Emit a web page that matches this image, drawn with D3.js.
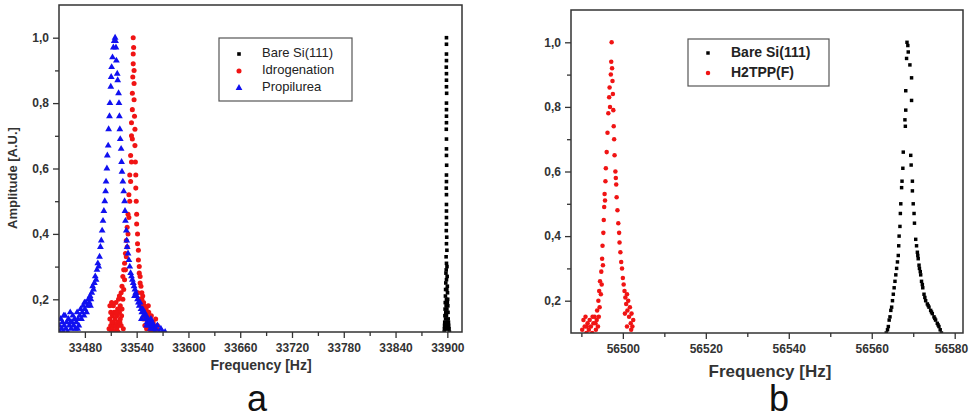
<!DOCTYPE html>
<html>
<head>
<meta charset="utf-8">
<script src="https://cdn.jsdelivr.net/npm/d3@7"></script>
<style>
  body { margin: 0; background: #fff; }
  text { font-family: "Liberation Sans", Arial, sans-serif; }
</style>
</head>
<body>
<script>
// ---- data: [frequency Hz, amplitude A.U.] ----
const bareSiA = [
  [33899,1.0],[33899,0.98],[33899,0.95],[33899,0.93],[33898.8,0.91],[33899,0.89],[33899,0.87],[33899,0.85],
  [33899.2,0.83],[33899,0.80],[33899,0.78],[33899,0.76],[33899,0.74],[33898.8,0.72],[33899,0.69],[33899,0.66],
  [33899,0.64],[33899.2,0.61],[33899,0.58],[33899,0.56],[33898.8,0.54],[33899,0.52],[33899,0.49],[33899,0.47],
  [33899,0.45],[33899,0.43],[33898.8,0.41],[33899.3,0.39],[33899,0.37],[33899.5,0.35],[33898.6,0.33],[33899,0.31],
  [33899.6,0.30],[33898.4,0.28],[33899.8,0.27],[33898.2,0.25],[33900,0.24],[33898,0.23],[33900.2,0.22],[33897.8,0.21],
  [33900.4,0.20],[33897.6,0.19],[33900.6,0.18],[33897.4,0.17],[33900.8,0.16],[33897.2,0.15],[33901,0.14],[33897,0.13],
  [33901.3,0.13],[33896.8,0.12],[33901.6,0.12],[33896.6,0.11],[33902,0.11],[33896.4,0.10],[33902.4,0.10],
  [33899,0.20],[33899,0.15],[33898.5,0.12],[33899.5,0.17],[33898.6,0.18],[33899.8,0.13],[33898,0.14],[33900.5,0.11],
  [33898.2,0.16],[33900,0.19],[33899,0.26],[33898.7,0.29],[33899.4,0.23],[33899,0.11],[33900.8,0.12],[33897.6,0.11]
];
const idrogenation = [
  [33508,0.11],[33509,0.14],[33509,0.18],[33510,0.12],[33510,0.16],[33511,0.19],[33512,0.11],[33512,0.15],
  [33513,0.13],[33513,0.18],[33514,0.12],[33514,0.16],[33515,0.10],[33515,0.14],[33516,0.19],[33516,0.12],
  [33517,0.15],[33517,0.11],[33518,0.17],[33518,0.13],[33519,0.20],[33519,0.12],[33520,0.16],[33520,0.21],
  [33521,0.14],[33521,0.18],[33522,0.22],[33522,0.12],[33523,0.17],[33523,0.24],[33524,0.20],[33524,0.27],
  [33525,0.23],[33525,0.29],[33526,0.26],[33526,0.31],[33527,0.29],[33527,0.34],[33528,0.33],[33528,0.38],
  [33529,0.36],[33529,0.42],[33530,0.40],[33530,0.46],[33531,0.45],[33531,0.52],[33532,0.50],[33532,0.58],
  [33533,0.56],[33533,0.64],[33534,0.62],[33534,0.70],[33534,0.74],[33535,0.69],[33535,0.78],[33535,0.83],
  [33535.5,0.88],[33536,0.92],[33536,0.95],[33536,1.0],[33536.5,0.97],[33537,0.90],[33537,0.86],[33537,0.81],
  [33537.5,0.76],[33538,0.72],[33538,0.67],[33538.5,0.62],[33539,0.58],[33539,0.54],[33539.5,0.50],[33540,0.46],
  [33540,0.43],[33541,0.40],[33541,0.37],[33542,0.35],[33542,0.32],[33543,0.30],[33543,0.28],[33544,0.27],
  [33544,0.25],[33545,0.24],[33546,0.22],[33546,0.20],[33547,0.21],[33548,0.19],[33548,0.17],[33549,0.18],
  [33550,0.16],[33550,0.14],[33551,0.17],[33552,0.15],[33552,0.12],[33553,0.13],[33554,0.16],[33554,0.11],
  [33555,0.14],[33556,0.12],[33557,0.15],[33558,0.11],[33559,0.13],[33560,0.12],[33561,0.10],[33562,0.14],
  [33563,0.11],[33564,0.12],[33510.5,0.10],[33511.5,0.13],[33513.5,0.10],[33516.5,0.16],[33518.5,0.10],
  [33520.5,0.13],[33522.5,0.15],[33524.5,0.11],[33541.5,0.22],[33543.5,0.20],[33545.5,0.18],[33547.5,0.14],
  [33549.5,0.12],[33551.5,0.11],[33553.5,0.18],[33556.5,0.10]
];
const propilurea = [
  [33450,0.12],[33451,0.10],[33452,0.14],[33453,0.11],[33454,0.13],[33455,0.10],[33456,0.12],[33457,0.15],
  [33458,0.11],[33459,0.13],[33460,0.10],[33461,0.14],[33462,0.12],[33463,0.16],[33464,0.11],[33465,0.13],
  [33466,0.15],[33467,0.12],[33468,0.14],[33469,0.11],[33470,0.13],[33471,0.16],[33472,0.14],[33473,0.12],
  [33474,0.15],[33475,0.17],[33476,0.14],[33477,0.16],[33478,0.18],[33479,0.15],[33480,0.17],[33481,0.19],
  [33482,0.16],[33483,0.18],[33484,0.20],[33485,0.19],[33486,0.21],[33487,0.20],[33488,0.22],[33489,0.24],
  [33490,0.23],[33491,0.25],[33492,0.27],[33493,0.26],[33494,0.29],[33495,0.31],[33496,0.30],[33497,0.33],
  [33498,0.36],[33499,0.38],[33500,0.41],[33501,0.44],[33502,0.47],[33503,0.50],[33504,0.53],[33504.5,0.56],
  [33505.5,0.60],[33506,0.64],[33507,0.67],[33507.5,0.72],[33508.5,0.76],[33509,0.80],[33510,0.85],[33510.5,0.88],
  [33511,0.91],[33512,0.94],[33513,0.97],[33514,0.99],[33515,1.0],[33515.5,0.99],[33516,0.97],
  [33516.5,0.93],[33517.5,0.89],[33518,0.87],[33519,0.83],[33519.5,0.80],[33520,0.76],[33520.5,0.72],[33521,0.69],
  [33522,0.66],[33522.5,0.62],[33523,0.59],[33524,0.56],[33525,0.53],[33526,0.50],[33526.5,0.47],[33527,0.44],
  [33528,0.41],[33528.5,0.38],[33529,0.36],[33530,0.34],[33531,0.32],[33532,0.30],[33533,0.28],[33534,0.27],
  [33535,0.26],[33536,0.25],[33537,0.24],[33538,0.23],[33539,0.22],[33540,0.21],[33541,0.20],[33542,0.19],
  [33543,0.18],[33544,0.19],[33545,0.17],[33546,0.16],[33547,0.17],[33548,0.15],[33549,0.16],[33550,0.14],
  [33551,0.15],[33552,0.13],[33553,0.14],[33554,0.12],[33555,0.13],[33556,0.11],[33557,0.12],[33558,0.13],
  [33559,0.11],[33560,0.12],[33561,0.10],[33562,0.11],[33564,0.12],[33566,0.10],[33568,0.11],[33570,0.10],
  [33573,0.10],[33455.5,0.15],[33463.5,0.13],[33471.5,0.11],[33479.5,0.19],[33486.5,0.18],[33537.5,0.21],
  [33545.5,0.14],[33551.5,0.12],[33556.5,0.14]
];
const bareSiB = [
  [56568.5,1.0],[56568.7,0.99],[56568.8,0.97],[56568.4,0.95],[56569.2,0.93],[56569.6,0.89],[56568.2,0.85],
  [56569.6,0.82],[56568.2,0.79],[56568.0,0.76],[56568.1,0.74],
  [56567.6,0.66],[56569.4,0.65],[56569.5,0.62],[56567.5,0.61],[56567.3,0.57],[56569.8,0.57],[56567.2,0.55],
  [56569.8,0.54],[56567.0,0.50],[56570.0,0.50],[56566.9,0.47],[56570.2,0.47],[56566.8,0.43],[56570.3,0.44],
  [56566.6,0.40],[56570.6,0.39],[56566.5,0.37],[56570.8,0.37],[56566.4,0.34],[56571.0,0.35],[56566.2,0.32],
  [56571.2,0.33],[56566.0,0.30],[56571.5,0.30],[56565.8,0.28],[56571.8,0.28],[56565.6,0.26],[56572.0,0.26],
  [56565.4,0.24],[56572.3,0.24],[56565.2,0.22],[56572.6,0.22],[56565.0,0.20],[56573.0,0.20],[56564.8,0.18],
  [56573.4,0.19],[56564.6,0.17],[56573.8,0.18],[56564.4,0.15],[56574.2,0.17],[56564.2,0.14],[56574.6,0.16],
  [56564.0,0.12],[56575.0,0.15],[56563.8,0.11],[56575.4,0.14],[56563.5,0.10],[56575.8,0.13],[56576.2,0.12],
  [56576.5,0.11],[56576.8,0.10],[56571.1,0.34],[56571.4,0.31],[56571.7,0.29],[56572.2,0.25],[56572.8,0.21],
  [56573.6,0.185],[56574.4,0.165],[56575.2,0.145],[56576.0,0.125]
];
const h2tpp = [
  [56490.2,0.11],[56490.5,0.14],[56490.8,0.12],[56491.0,0.15],[56491.2,0.10],[56491.5,0.13],[56491.8,0.11],
  [56492.0,0.14],[56492.3,0.12],[56492.6,0.10],[56492.9,0.13],[56493.2,0.15],[56493.5,0.11],[56493.7,0.14],
  [56493.8,0.17],[56494.0,0.12],[56494.1,0.20],[56494.3,0.23],[56494.4,0.18],[56494.5,0.26],[56494.7,0.22],
  [56494.8,0.29],[56494.9,0.25],[56495.0,0.33],[56495.1,0.37],[56495.2,0.31],[56495.3,0.41],[56495.4,0.45],
  [56495.5,0.49],[56495.6,0.53],[56495.8,0.57],[56495.7,0.51],[56495.9,0.61],[56496.1,0.66],[56496.3,0.72],
  [56496.5,0.78],[56496.7,0.83],[56496.8,0.86],[56496.9,0.80],[56497.1,0.90],[56497.2,0.94],[56497.3,1.0],
  [56497.4,0.92],[56497.5,0.88],[56497.6,0.84],[56497.7,0.79],[56497.8,0.74],[56497.9,0.70],[56498.0,0.65],
  [56498.2,0.60],[56498.4,0.56],[56498.5,0.52],[56498.3,0.58],[56498.7,0.48],[56498.9,0.44],[56499.1,0.41],
  [56499.2,0.38],[56499.4,0.35],[56499.6,0.32],[56499.8,0.30],[56500.0,0.27],[56500.2,0.25],[56500.4,0.23],
  [56500.6,0.21],[56500.8,0.19],[56501.0,0.22],[56501.1,0.17],[56501.3,0.20],[56501.5,0.15],[56501.7,0.18],
  [56501.9,0.13],[56502.1,0.16],[56502.3,0.12],[56502.5,0.14],[56500.5,0.16],[56501.0,0.12],[56502.0,0.11],
  [56491.3,0.12],[56492.7,0.15],[56493.4,0.13],[56494.2,0.15]
];

// ---- axes ticks ----
const xTicksA = [33480, 33540, 33600, 33660, 33720, 33780, 33840, 33900];
const xMinorA = [33510, 33570, 33630, 33690, 33750, 33810, 33870];
const xTicksB = [56500, 56520, 56540, 56560, 56580];
const xMinorB = [56490, 56510, 56530, 56550, 56570];
const yTicks = [0.2, 0.4, 0.6, 0.8, 1.0];
const yMinor = [0.3, 0.5, 0.7, 0.9];

const W = 969, H = 419;
const svg = d3.select("body").append("svg").attr("width", W).attr("height", H);

const commaFmt = v => d3.format(".1f")(v).replace(".", ",");

function drawPanel(p) {
  const x = d3.scaleLinear().domain(p.xDomain).range([p.left, p.right]);
  const y = d3.scaleLinear().domain([0.1, 1.1]).range([p.bottom, p.top]);
  const g = svg.append("g");

  g.append("clipPath").attr("id", p.id + "clip")
    .append("rect").attr("x", p.left).attr("y", p.top)
    .attr("width", p.right - p.left).attr("height", p.bottom - p.top);

  const plot = g.append("g").attr("clip-path", `url(#${p.id}clip)`);
  p.series.forEach(s => {
    const sym = d3.symbol().type(s.shape).size(s.size);
    plot.append("g").selectAll("path").data(s.data).join("path")
      .attr("d", sym)
      .attr("transform", d => `translate(${x(d[0])},${y(d[1])})`)
      .attr("fill", s.color);
  });

  // frame
  g.append("rect").attr("x", p.left).attr("y", p.top)
    .attr("width", p.right - p.left).attr("height", p.bottom - p.top)
    .attr("fill", "none").attr("stroke", "#333").attr("stroke-width", 1.5);

  g.append("g").attr("transform", `translate(0,${p.bottom})`)
    .call(d3.axisBottom(x).tickValues(p.xTicks).tickSize(6).tickPadding(5).tickFormat(d3.format("d")));
  g.append("g").attr("transform", `translate(0,${p.bottom})`)
    .call(d3.axisBottom(x).tickValues(p.xMinor).tickSize(4).tickFormat(""));
  g.append("g").attr("transform", `translate(${p.left},0)`)
    .call(d3.axisLeft(y).tickValues(yTicks).tickSize(6).tickPadding(4).tickFormat(commaFmt));
  g.append("g").attr("transform", `translate(${p.left},0)`)
    .call(d3.axisLeft(y).tickValues(yMinor).tickSize(4).tickFormat(""));

  g.selectAll(".domain").remove();
  g.selectAll(".tick line").attr("stroke", "#333").attr("stroke-width", 1.3);
  g.selectAll(".tick text").attr("fill", "#333").style("font-size", "12px").style("font-weight", "bold");

  g.append("text").attr("x", p.xTitle[0]).attr("y", p.xTitle[1])
    .attr("text-anchor", "middle").attr("fill", "#333")
    .style("font-size", p.xTitleSize + "px").style("font-weight", "bold")
    .text("Frequency [Hz]");

  // legend
  const lg = g.append("g");
  lg.append("rect").attr("x", p.legend.x).attr("y", p.legend.y)
    .attr("width", p.legend.w).attr("height", p.legend.h)
    .attr("fill", "#fff").attr("stroke", "#555").attr("stroke-width", 1.2);
  p.series.forEach((s, i) => {
    const ry = p.legend.y + p.legend.first + i * p.legend.step;
    lg.append("path").attr("d", d3.symbol().type(s.shape).size(s.size)())
      .attr("transform", `translate(${p.legend.x + p.legend.symX},${ry})`).attr("fill", s.color);
    lg.append("text").attr("x", p.legend.x + p.legend.textX).attr("y", ry)
      .attr("dominant-baseline", "middle").attr("fill", "#222")
      .style("font-size", p.legend.fontSize + "px").style("font-weight", p.legend.weight)
      .text(s.name);
  });

  g.append("text").attr("x", p.letter[0]).attr("y", p.letter[1])
    .attr("text-anchor", "middle").attr("fill", "#111")
    .style("font-size", "36px").text(p.id);
  return g;
}

const ga = drawPanel({
  id: "a", left: 59, right: 462, top: 5, bottom: 332,
  xDomain: [33450, 33917], xTicks: xTicksA, xMinor: xMinorA,
  xTitle: [261, 370], xTitleSize: 14, letter: [257, 411],
  series: [
    { name: "Bare Si(111)", data: bareSiA, shape: d3.symbolSquare, size: 13, color: "#000" },
    { name: "Idrogenation", data: idrogenation, shape: d3.symbolCircle, size: 20, color: "#f01414" },
    { name: "Propilurea", data: propilurea, shape: d3.symbolTriangle, size: 20, color: "#1010f0" }
  ],
  legend: { x: 219, y: 38, w: 133, h: 63, first: 16, step: 17, symX: 20, textX: 43, fontSize: 13, weight: "normal" }
});

ga.append("text").attr("transform", "translate(17,178) rotate(-90)")
  .attr("text-anchor", "middle").attr("fill", "#333")
  .style("font-size", "13px").style("font-weight", "bold")
  .text("Amplitude [A.U.]");

const gb = drawPanel({
  id: "b", left: 571, right: 963, top: 10, bottom: 333,
  xDomain: [56487.5, 56582], xTicks: xTicksB, xMinor: xMinorB,
  xTitle: [770, 377], xTitleSize: 17, letter: [779, 411],
  series: [
    { name: "Bare Si(111)", data: bareSiB, shape: d3.symbolSquare, size: 12, color: "#000" },
    { name: "H2TPP(F)", data: h2tpp, shape: d3.symbolCircle, size: 16, color: "#f01414" }
  ],
  legend: { x: 688, y: 39, w: 141, h: 47, first: 14, step: 20, symX: 20, textX: 43, fontSize: 14, weight: "bold" }
});

// the last tick label sits at the window edge: keep it fully inside
gb.selectAll(".tick text").filter(d => d === 56580)
  .attr("text-anchor", "end").attr("x", 13);
</script>
</body>
</html>
